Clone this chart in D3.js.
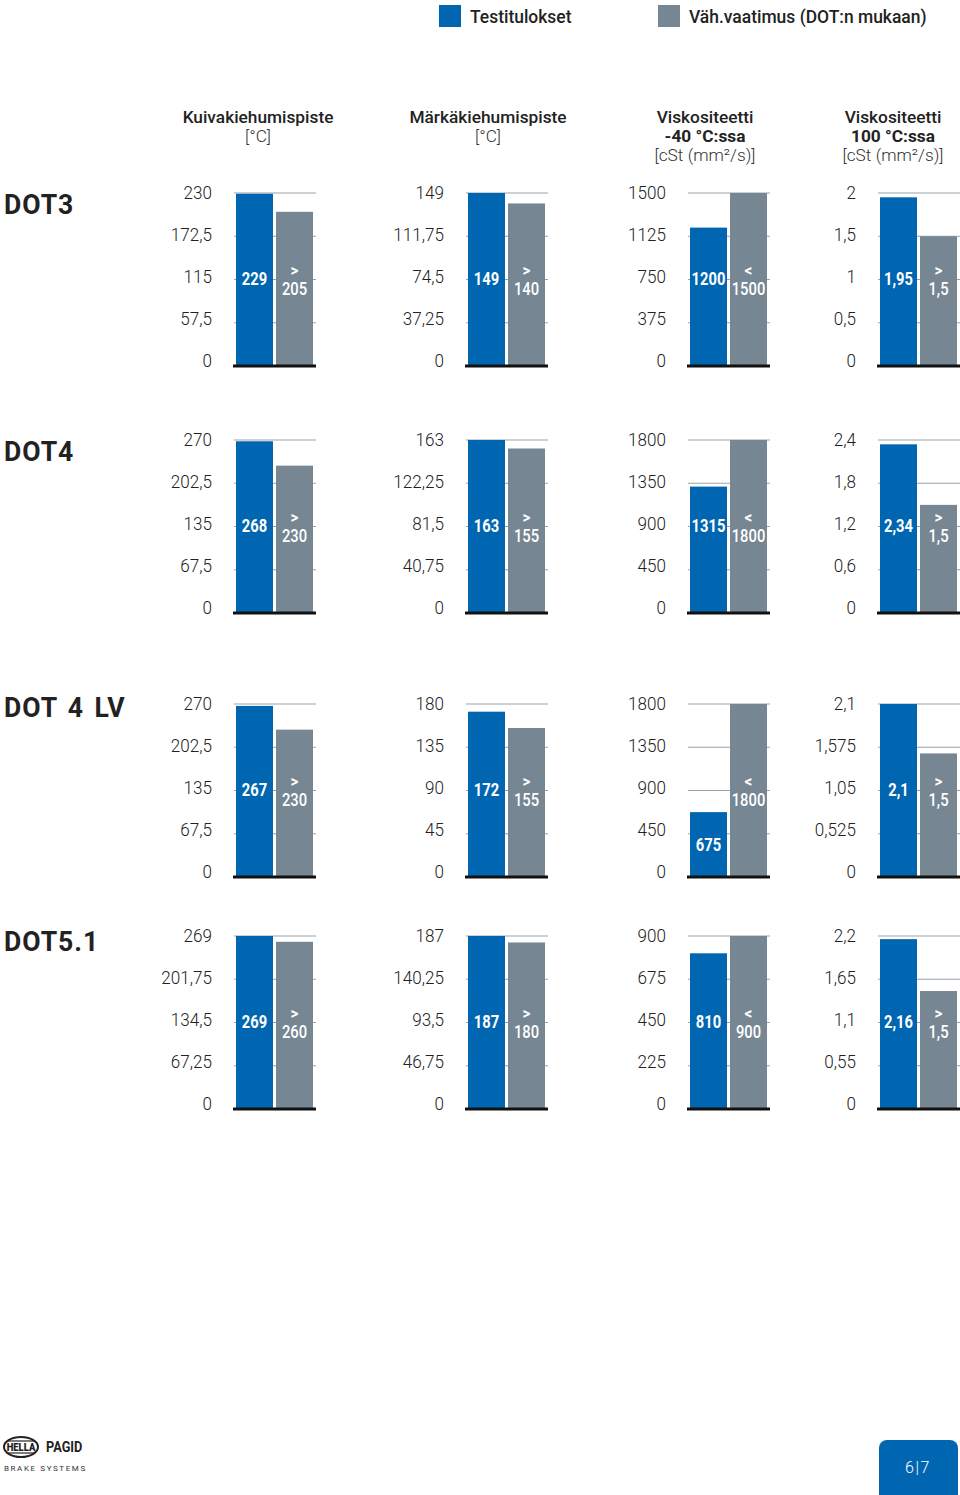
<!DOCTYPE html>
<html><head><meta charset="utf-8">
<script src="https://cdn.jsdelivr.net/npm/d3@7"></script>
<style>
body{margin:0;background:#fff;}
svg{display:block;}
text{font-family:"Roboto","Noto Sans",sans-serif;}
</style></head>
<body><svg id="c" width="960" height="1495"></svg>
<script>
// ---- data ----
const rowNames = ["DOT3", "DOT4", "DOT 4 LV", "DOT5.1"];
const seriesNames = ["Testitulokset", "Väh.vaatimus (DOT:n mukaan)"];
const headerLines = [
  [["Kuivakiehumispiste", 500], ["[°C]", 300]],
  [["Märkäkiehumispiste", 500], ["[°C]", 300]],
  [["Viskositeetti", 500], ["-40 °C:ssa", 700], ["[cSt (mm²/s)]", 300]],
  [["Viskositeetti", 500], ["100 °C:ssa", 700], ["[cSt (mm²/s)]", 300]]
];
const testValues = [
  [229, 149, 1200, 1.95],
  [268, 163, 1315, 2.34],
  [267, 172, 675, 2.1],
  [269, 187, 810, 2.16]
];
const minValues = [
  [205, 140, 1500, 1.5],
  [230, 155, 1800, 1.5],
  [230, 155, 1800, 1.5],
  [260, 180, 900, 1.5]
];
const minPrefix = [">", ">", "<", ">"];
const tickValues = [
  [[0, 57.5, 115, 172.5, 230], [0, 37.25, 74.5, 111.75, 149], [0, 375, 750, 1125, 1500], [0, 0.5, 1, 1.5, 2]],
  [[0, 67.5, 135, 202.5, 270], [0, 40.75, 81.5, 122.25, 163], [0, 450, 900, 1350, 1800], [0, 0.6, 1.2, 1.8, 2.4]],
  [[0, 67.5, 135, 202.5, 270], [0, 45, 90, 135, 180], [0, 450, 900, 1350, 1800], [0, 0.525, 1.05, 1.575, 2.1]],
  [[0, 67.25, 134.5, 201.75, 269], [0, 46.75, 93.5, 140.25, 187], [0, 225, 450, 675, 900], [0, 0.55, 1.1, 1.65, 2.2]]
];

// ---- layout ----
const BLUE = "#0066b1", GRAY = "#768693";
const svg = d3.select("#c");
const panelX = [234, 466, 688, 878];
const panelW = 82;
const headerX = [258, 488, 705, 893];
const rowTop = [193, 440, 704, 936];
const plotH = 173;
const fmt = v => String(v).replace(".", ",");

// condensed text helper
function ctext(g, x, y, s, anchor) {
  return g.append("text").attr("transform", `translate(${x},${y}) scale(${s},1)`)
    .attr("text-anchor", anchor || "start").attr("dominant-baseline", "central");
}

// legend
const leg = svg.append("g");
[[439, 470], [658, 689]].forEach(([rx, tx], i) => {
  leg.append("rect").attr("x", rx).attr("y", 5).attr("width", 22).attr("height", 22)
    .attr("fill", i === 0 ? BLUE : GRAY);
  ctext(leg, tx, 17, 0.97).attr("font-size", 18).attr("font-weight", 500).attr("fill", "#222").text(seriesNames[i]);
});

// headers
headerLines.forEach((lines, c) => {
  lines.forEach(([t, w], k) => {
    ctext(svg, headerX[c], 117 + k * 19, 1, "middle")
      .attr("font-size", 17.3).attr("font-weight", w)
      .attr("fill", w === 300 ? "#333" : "#222").text(t);
  });
});

// rows
rowNames.forEach((name, r) => {
  const top = rowTop[r], base = top + plotH;
  ctext(svg, 4, top + (r === 2 ? 4 : r === 3 ? 6 : 12), 0.95)
    .attr("font-size", 28).attr("font-weight", 700)
    .attr("letter-spacing", 1).attr("word-spacing", 3).attr("fill", "#222").text(name);

  for (let c = 0; c < 4; c++) {
    const ticks = tickValues[r][c];
    const maxV = ticks[ticks.length - 1];
    const x0 = panelX[c];
    const y = d3.scaleLinear().domain([0, maxV]).range([base, top]);
    const yLab = d3.scaleLinear().domain([0, maxV]).range([base - 5, top]);
    const x = d3.scaleBand().domain(["test", "min"]).range([x0 + 2, x0 + 79]).paddingInner(0.075);
    const g = svg.append("g");

    // gridlines
    g.selectAll("line.grid").data(ticks.slice(1)).join("line")
      .attr("x1", x0).attr("x2", x0 + panelW)
      .attr("y1", d => y(d)).attr("y2", d => y(d))
      .attr("stroke", "#9aa3aa").attr("stroke-width", 1);

    // tick labels
    ticks.forEach(t => {
      ctext(g, x0 - 22, yLab(t), 0.95, "end")
        .attr("font-size", 18).attr("font-weight", 300).attr("fill", "#222").text(fmt(t));
    });

    // bars
    const vals = [["test", testValues[r][c]], ["min", minValues[r][c]]];
    g.selectAll("rect.bar").data(vals).join("rect")
      .attr("x", d => x(d[0])).attr("width", x.bandwidth())
      .attr("y", d => y(d[1])).attr("height", d => base - y(d[1]))
      .attr("fill", d => d[0] === "test" ? BLUE : GRAY);

    // baseline
    g.append("line").attr("x1", x0 - 1).attr("x2", x0 + panelW).attr("y1", base).attr("y2", base)
      .attr("stroke", "#111").attr("stroke-width", 3);

    // labels
    const mid = top + 86;
    vals.forEach(([k, v]) => {
      const cx = x(k) + x.bandwidth() / 2;
      const barTop = y(v);
      const ly = barTop < mid - 10 ? mid : (barTop + base) / 2;
      if (k === "test") {
        ctext(g, cx, ly, 0.82, "middle").attr("font-size", 18).attr("font-weight", 700)
          .attr("fill", "#fff").text(fmt(v));
      } else {
        ctext(g, cx, ly - 9, 0.9, "middle").attr("font-size", 17).attr("font-weight", 700)
          .attr("fill", "#fff").text(minPrefix[c]);
        ctext(g, cx, ly + 10, 0.82, "middle").attr("font-size", 18).attr("font-weight", 500)
          .attr("fill", "#fff").text(fmt(v));
      }
    });
  }
});

// footer: logo
const lg = svg.append("g");
lg.append("ellipse").attr("cx", 21).attr("cy", 1447).attr("rx", 17).attr("ry", 10)
  .attr("fill", "none").attr("stroke", "#222").attr("stroke-width", 2);
lg.append("line").attr("x1", 8).attr("x2", 34).attr("y1", 1441).attr("y2", 1441).attr("stroke", "#222").attr("stroke-width", 1.2);
lg.append("line").attr("x1", 8).attr("x2", 34).attr("y1", 1453).attr("y2", 1453).attr("stroke", "#222").attr("stroke-width", 1.2);
ctext(lg, 21, 1447, 0.9, "middle").attr("font-size", 10.5).attr("font-weight", 900).attr("fill", "#222").text("HELLA");
ctext(lg, 46, 1447, 0.88, "start").attr("font-size", 14.5).attr("font-weight", 700).attr("fill", "#222").text("PAGID");
lg.append("text").attr("x", 4).attr("y", 1468).attr("dominant-baseline", "central")
  .attr("font-size", 8).attr("letter-spacing", 1.6).attr("fill", "#333").text("BRAKE SYSTEMS");

// footer: page number
svg.append("rect").attr("x", 879).attr("y", 1440).attr("width", 79).attr("height", 70).attr("rx", 8)
  .attr("fill", BLUE);
svg.append("text").attr("x", 918).attr("y", 1467).attr("text-anchor", "middle").attr("dominant-baseline", "central")
  .attr("font-size", 16).attr("font-weight", 300).attr("fill", "#fff").attr("letter-spacing", 1.5).text("6|7");
</script></body></html>
